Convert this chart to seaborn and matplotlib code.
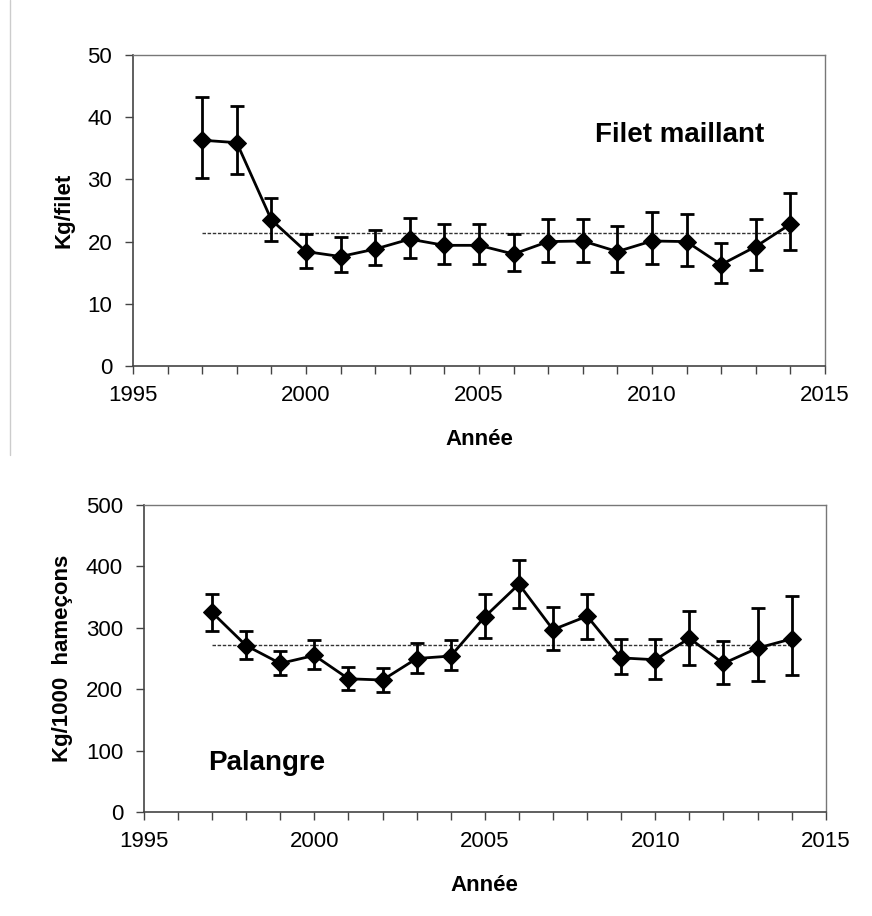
import matplotlib
matplotlib.use("Agg")
import matplotlib.pyplot as plt
import seaborn as sns
import numpy as np
import pandas as pd
from matplotlib.lines import Line2D
from matplotlib.ticker import MultipleLocator

years = list(range(1997, 2015))

filet_mean = [36.3, 35.9, 23.5, 18.4, 17.6, 18.8, 20.4, 19.4, 19.4, 18.0,
              20.0, 20.1, 18.4, 20.1, 20.0, 16.3, 19.2, 22.8]
filet_upper = [43.3, 41.8, 27.0, 21.2, 20.8, 21.9, 23.8, 22.8, 22.8, 21.3,
               23.6, 23.7, 22.5, 24.7, 24.4, 19.7, 23.6, 27.8]
filet_lower = [30.3, 30.8, 20.1, 15.8, 15.1, 16.2, 17.3, 16.4, 16.4, 15.3,
               16.8, 16.8, 15.1, 16.4, 16.0, 13.3, 15.4, 18.6]
filet_avg = 21.4

pal_mean = [325, 271, 242, 255, 217, 215, 250, 254, 318, 371,
            297, 319, 251, 248, 283, 242, 267, 282]
pal_upper = [355, 294, 263, 280, 236, 234, 275, 280, 355, 410,
             334, 355, 282, 282, 328, 279, 333, 352]
pal_lower = [295, 249, 223, 233, 199, 196, 227, 231, 284, 332,
             264, 282, 225, 216, 240, 208, 214, 223]
pal_avg = 272

sns.set_theme(style="white")
plt.rcParams["font.family"] = ["Liberation Sans", "DejaVu Sans"]
plt.rcParams["text.color"] = "black"
plt.rcParams["axes.labelcolor"] = "black"
plt.rcParams["xtick.color"] = "black"
plt.rcParams["ytick.color"] = "black"

fig = plt.figure(figsize=(8.72, 9.16), dpi=100)
ax1 = fig.add_axes([0.1525, 0.6004, 0.7935, 0.3396])
ax2 = fig.add_axes([0.165, 0.1135, 0.782, 0.3352])

def draw(ax, mean, upper, lower, avg, ylim, ystep, ylabel, label, label_xy):
    df = pd.DataFrame({"year": years, "val": mean})
    m = np.array(mean); u = np.array(upper); l = np.array(lower)
    ax.errorbar(years, mean, yerr=[m - l, u - m], fmt="none", ecolor="black",
                elinewidth=2, capsize=5, capthick=2, zorder=2)
    sns.lineplot(data=df, x="year", y="val", ax=ax, color="black", linewidth=2,
                 marker="D", markersize=9, markeredgecolor="black", zorder=3)
    ax.plot([years[0], years[-1]], [avg, avg], color="#333333", linewidth=1,
            linestyle=(0, (2.5, 1.2)), zorder=1)
    ax.set_xlim(1995, 2015)
    ax.set_ylim(*ylim)
    ax.xaxis.set_major_locator(MultipleLocator(5))
    ax.xaxis.set_minor_locator(MultipleLocator(1))
    ax.yaxis.set_major_locator(MultipleLocator(ystep))
    ax.tick_params(axis="x", which="both", direction="out", bottom=True,
                   length=6, width=1, color="#444444", labelsize=16, pad=8)
    ax.tick_params(axis="y", which="major", direction="out", left=True,
                   length=6, width=1, color="#444444", labelsize=16, pad=9)
    for s in ["left", "bottom"]:
        ax.spines[s].set_color("#444444"); ax.spines[s].set_linewidth(1.2)
    for s in ["top", "right"]:
        ax.spines[s].set_color("#777777"); ax.spines[s].set_linewidth(1)
    ax.set_xlabel("Année", fontsize=16, fontweight="bold", labelpad=16)
    ax.set_ylabel(ylabel, fontsize=16, fontweight="bold", labelpad=9)
    ax.text(label_xy[0], label_xy[1], label, fontsize=20, fontweight="bold",
            ha="center", va="center")

draw(ax1, filet_mean, filet_upper, filet_lower, filet_avg, (0, 50), 10,
     "Kg/filet", "Filet maillant", (2010.8, 37.1))
draw(ax2, pal_mean, pal_upper, pal_lower, pal_avg, (0, 500), 100,
     "Kg/1000  hameçons", "Palangre", (1998.6, 80))

fig.add_artist(Line2D([10 / 872, 10 / 872], [1.0, 1 - 455 / 916],
                      transform=fig.transFigure, color="#cccccc", linewidth=1))

fig.savefig("out.png", dpi=100, facecolor="white")
